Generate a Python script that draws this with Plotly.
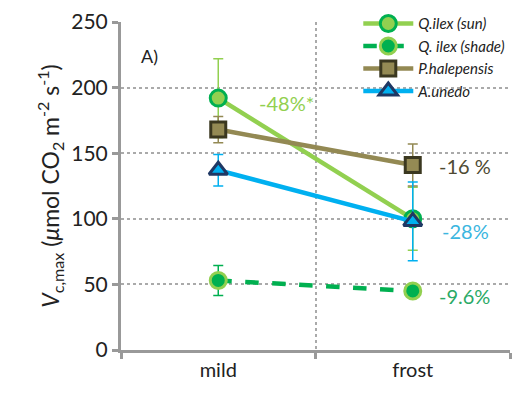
import plotly.graph_objects as go

categories = ["mild", "frost"]

series_names = ["Q.ilex (sun)", "Q. ilex (shade)", "P.halepensis", "A.unedo"]
qilex_sun = [192, 100]
qilex_sun_err = [30, 24]
qilex_shade = [53, 45]
qilex_shade_err = [11.5, 3]
p_halepensis = [168, 141]
p_halepensis_err = [10, 16]
a_unedo = [137, 98]
a_unedo_err = [12, 30]

pct_labels = ["-48%*", "-9.6%", "-16 %", "-28%"]

y_ticks = [0, 50, 100, 150, 200, 250]

FONT = "Lato"

fig = go.Figure()

def add(name, y, err, line_color, dash, symbol, fill, border, size, err_color):
    fig.add_trace(go.Scatter(
        x=categories, y=y, name=name, mode="lines+markers",
        line=dict(color=line_color, width=4.5, dash=dash),
        marker=dict(symbol=symbol, size=size, color=fill, line=dict(color=border, width=3)),
        error_y=dict(type="data", array=err, visible=True, color=err_color, thickness=1.5, width=5),
    ))

add(series_names[0], qilex_sun, qilex_sun_err, "#92D050", "solid", "circle", "#92D050", "#00B050", 16, "#92D050")
add(series_names[1], qilex_shade, qilex_shade_err, "#00B050", "dash", "circle", "#00B050", "#92D050", 16, "#00B050")
add(series_names[2], p_halepensis, p_halepensis_err, "#938953", "solid", "square", "#948A54", "#3B3820", 15, "#938953")
add(series_names[3], a_unedo, a_unedo_err, "#00B0F0", "solid", "triangle-up", "#00B0F0", "#1F3864", 16, "#00B0F0")

# percentage annotations
ann = [
    dict(x=0.2, y=188, text=pct_labels[0], color="#92D050"),
    dict(x=1.125, y=41, text=pct_labels[1], color="#2AAA66"),
    dict(x=1.125, y=140, text=pct_labels[2], color="#4E4A33"),
    dict(x=1.14, y=91, text=pct_labels[3], color="#3BB6E0"),
]
for a in ann:
    fig.add_annotation(x=a["x"], y=a["y"], xref="x", yref="y", text=a["text"],
                       showarrow=False, xanchor="left",
                       font=dict(family=FONT, size=20, color=a["color"]))

fig.add_annotation(x=0.045, y=0.935, xref="paper", yref="paper", text="A)", showarrow=False,
                   xanchor="left", font=dict(family=FONT, size=18, color="#222"))

fig.update_layout(
    width=517, height=405,
    margin=dict(l=121, r=7, t=14, b=55),
    paper_bgcolor="white", plot_bgcolor="white",
    font=dict(family=FONT, size=20, color="#222"),
    showlegend=True,
    legend=dict(x=0.61, y=1.045, xanchor="left", yanchor="top",
                bgcolor="rgba(255,255,255,0)", tracegroupgap=0,
                font=dict(family=FONT, size=15, color="#222", style="italic"),
                itemwidth=50),
    xaxis=dict(
        type="category", range=[-0.5, 1.5], tickson="boundaries",
        showline=True, linecolor="#999", linewidth=3,
        ticks="outside", ticklen=6, tickwidth=3, tickcolor="#999",
        showgrid=True, gridcolor="#aaa", griddash="dot", gridwidth=1.5,
        tickfont=dict(family=FONT, size=20, color="#222"),
    ),
    yaxis=dict(
        range=[0, 250], tickvals=y_ticks,
        showline=True, linecolor="#999", linewidth=3,
        ticks="outside", ticklen=6, tickwidth=3, tickcolor="#999",
        showgrid=True, gridcolor="#aaa", griddash="dot", gridwidth=1.5,
        zeroline=False,
        tickfont=dict(family=FONT, size=21, color="#222"),
        title=dict(text="<i>V</i><sub>c,max</sub> (<i>μ</i>mol CO<sub>2</sub> m<sup>-2</sup> s<sup>-1</sup>)",
                   font=dict(family=FONT, size=23, color="#222"), standoff=6),
    ),
)

fig.write_html("out.html")
